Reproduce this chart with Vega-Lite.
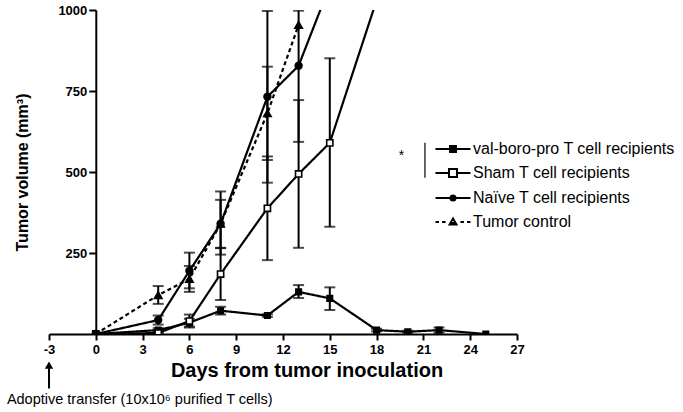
{
  "$schema": "https://vega.github.io/schema/vega-lite/v6.json",
  "width": 468,
  "height": 324,
  "autosize": {"type": "none"},
  "padding": {"left": 49, "top": 10, "right": 166, "bottom": 78},
  "config": {
    "view": {"stroke": null},
    "font": "Liberation Sans",
    "axis": {"grid": false, "domainColor": "black", "domainWidth": 2, "tickColor": "black", "tickWidth": 2, "labelColor": "black", "titleColor": "black", "labelFont": "Liberation Sans", "titleFont": "Liberation Sans", "labelFontWeight": "bold", "labelFontSize": 13, "labelOverlap": false, "labelFlush": false},
    "legend": {"labelFont": "Liberation Sans", "labelFontSize": 16, "labelColor": "black", "symbolStrokeColor": "black", "symbolStrokeWidth": 2, "labelLimit": 0}
  },
  "datasets": {
    "d": [
      {"g": "val-boro-pro T cell recipients", "day": 0, "v": 0, "lo": null, "hi": null},
      {"g": "val-boro-pro T cell recipients", "day": 4, "v": 12, "lo": 6, "hi": 18},
      {"g": "val-boro-pro T cell recipients", "day": 6, "v": 35, "lo": 23, "hi": 47},
      {"g": "val-boro-pro T cell recipients", "day": 8, "v": 72, "lo": 60, "hi": 84},
      {"g": "val-boro-pro T cell recipients", "day": 11, "v": 57, "lo": 53, "hi": 61},
      {"g": "val-boro-pro T cell recipients", "day": 13, "v": 130, "lo": 111, "hi": 151},
      {"g": "val-boro-pro T cell recipients", "day": 15, "v": 110, "lo": 74, "hi": 144},
      {"g": "val-boro-pro T cell recipients", "day": 18, "v": 12, "lo": 8, "hi": 16},
      {"g": "val-boro-pro T cell recipients", "day": 20, "v": 7, "lo": 4, "hi": 10},
      {"g": "val-boro-pro T cell recipients", "day": 22, "v": 12, "lo": 4, "hi": 20},
      {"g": "val-boro-pro T cell recipients", "day": 25, "v": 0, "lo": null, "hi": null},
      {"g": "Sham T cell recipients", "day": 0, "v": 0, "lo": null, "hi": null},
      {"g": "Sham T cell recipients", "day": 4, "v": 3, "lo": 0, "hi": 8},
      {"g": "Sham T cell recipients", "day": 6, "v": 40, "lo": 20, "hi": 60},
      {"g": "Sham T cell recipients", "day": 8, "v": 185, "lo": 105, "hi": 265},
      {"g": "Sham T cell recipients", "day": 11, "v": 388, "lo": 228, "hi": 548},
      {"g": "Sham T cell recipients", "day": 13, "v": 494, "lo": 266, "hi": 722},
      {"g": "Sham T cell recipients", "day": 15, "v": 590, "lo": 331, "hi": 851},
      {"g": "Sham T cell recipients", "day": 18, "v": 1030, "lo": null, "hi": null},
      {"g": "Naïve T cell recipients", "day": 0, "v": 0, "lo": null, "hi": null},
      {"g": "Naïve T cell recipients", "day": 4, "v": 43, "lo": 29, "hi": 57},
      {"g": "Naïve T cell recipients", "day": 6, "v": 195, "lo": 141, "hi": 251},
      {"g": "Naïve T cell recipients", "day": 8, "v": 340, "lo": 245, "hi": 440},
      {"g": "Naïve T cell recipients", "day": 11, "v": 732, "lo": 467, "hi": 997},
      {"g": "Naïve T cell recipients", "day": 13, "v": 828, "lo": 593, "hi": 998},
      {"g": "Naïve T cell recipients", "day": 15, "v": 1075, "lo": null, "hi": null},
      {"g": "Tumor control", "day": 0, "v": 0, "lo": null, "hi": null},
      {"g": "Tumor control", "day": 4, "v": 120, "lo": 93, "hi": 148},
      {"g": "Tumor control", "day": 6, "v": 170, "lo": 130, "hi": 210},
      {"g": "Tumor control", "day": 8, "v": 340, "lo": 266, "hi": 414},
      {"g": "Tumor control", "day": 11, "v": 681, "lo": 537, "hi": 825},
      {"g": "Tumor control", "day": 13, "v": 954, "lo": null, "hi": null}
    ]
  },
  "resolve": {"scale": {"shape": "independent", "fill": "independent"}},
  "layer": [
    {
      "data": {"name": "d"},
      "transform": [{"filter": "datum.lo != null"}],
      "mark": {"type": "rule", "color": "black", "strokeWidth": 2, "clip": true},
      "encoding": {
        "x": {"field": "day", "type": "quantitative", "title": "Days from tumor inoculation", "scale": {"domain": [-3, 27], "nice": false, "zero": false},
          "axis": {"values": [-3, 0, 3, 6, 9, 12, 15, 18, 21, 24, 27], "labelExpr": "'' + datum.value", "titleFontSize": 20, "titleFontWeight": "bold", "titleX": 257.5, "titlePadding": 4, "tickSize": 6, "labelPadding": 3}},
        "y": {"field": "lo", "type": "quantitative", "title": "Tumor volume (mm³)", "scale": {"domain": [0, 1000], "nice": false, "zero": true},
          "axis": {"values": [250, 500, 750, 1000], "labelExpr": "'' + datum.value", "offset": -46.8, "titleFontSize": 16, "titleFontWeight": "bold", "titlePadding": 27, "tickSize": 7, "labelPadding": 2}},
        "y2": {"field": "hi"}
      }
    },
    {
      "data": {"name": "d"},
      "transform": [{"filter": "datum.lo != null"}],
      "mark": {"type": "tick", "color": "black", "orient": "horizontal", "size": 11, "thickness": 2, "clip": true},
      "encoding": {
        "x": {"field": "day", "type": "quantitative", "title": "Days from tumor inoculation"},
        "y": {"field": "lo", "type": "quantitative", "title": "Tumor volume (mm³)"}
      }
    },
    {
      "data": {"name": "d"},
      "transform": [{"filter": "datum.lo != null"}],
      "mark": {"type": "tick", "color": "black", "orient": "horizontal", "size": 11, "thickness": 2, "clip": true},
      "encoding": {
        "x": {"field": "day", "type": "quantitative", "title": "Days from tumor inoculation"},
        "y": {"field": "hi", "type": "quantitative", "title": "Tumor volume (mm³)"}
      }
    },
    {
      "data": {"name": "d"},
      "mark": {"type": "line", "color": "black", "strokeWidth": 2.2, "clip": true},
      "encoding": {
        "x": {"field": "day", "type": "quantitative", "title": "Days from tumor inoculation"},
        "y": {"field": "v", "type": "quantitative", "title": "Tumor volume (mm³)"},
        "detail": {"field": "g"},
        "strokeDash": {"field": "g", "type": "nominal", "legend": null,
          "scale": {"domain": ["val-boro-pro T cell recipients", "Sham T cell recipients", "Naïve T cell recipients", "Tumor control"], "range": [[1, 0], [1, 0], [1, 0], [4, 3]]}}
      }
    },
    {
      "data": {"name": "d"},
      "mark": {"type": "point", "filled": true, "stroke": "black", "strokeWidth": 1.6, "opacity": 1, "clip": true},
      "encoding": {
        "x": {"field": "day", "type": "quantitative", "title": "Days from tumor inoculation"},
        "y": {"field": "v", "type": "quantitative", "title": "Tumor volume (mm³)"},
        "shape": {"field": "g", "type": "nominal", "legend": null,
          "scale": {"domain": ["val-boro-pro T cell recipients", "Sham T cell recipients", "Naïve T cell recipients", "Tumor control"], "range": ["square", "square", "circle", "triangle-up"]}},
        "fill": {"field": "g", "type": "nominal", "legend": null,
          "scale": {"domain": ["val-boro-pro T cell recipients", "Sham T cell recipients", "Naïve T cell recipients", "Tumor control"], "range": ["black", "white", "black", "black"]}},
        "size": {"field": "g", "type": "nominal", "legend": null,
          "scale": {"domain": ["val-boro-pro T cell recipients", "Sham T cell recipients", "Naïve T cell recipients", "Tumor control"], "range": [30, 55, 30, 36]}}
      }
    },
    {
      "data": {"name": "d"},
      "transform": [{"filter": "datum.day > 1000"}],
      "mark": {"type": "point", "filled": false, "color": "black", "strokeWidth": 2, "opacity": 1},
      "encoding": {
        "x": {"field": "day", "type": "quantitative", "title": "Days from tumor inoculation"},
        "y": {"field": "v", "type": "quantitative", "title": "Tumor volume (mm³)"},
        "shape": {"field": "g", "type": "nominal",
          "scale": {"domain": ["val-boro-pro T cell recipients", "Sham T cell recipients", "Naïve T cell recipients", "Tumor control"],
            "range": [
              "M-2,0H2M-0.34,-0.23H0.34M-0.34,0.23H0.34M-0.34,-0.34H0.34V0.34H-0.34Z",
              "M-2,0H-0.46M0.46,0H2M-0.46,-0.46H0.46V0.46H-0.46Z",
              "M-2,0H2M-0.29,0A0.29,0.29,0,1,1,0.29,0A0.29,0.29,0,1,1,-0.29,0ZM-0.11,0A0.11,0.11,0,1,1,0.11,0A0.11,0.11,0,1,1,-0.11,0Z",
              "M-2,0H-1.6M-1.25,0H-0.85M0.85,0H1.25M1.6,0H2M-0.4,0.3L0,-0.4L0.4,0.3ZM-0.2,0.1H0.2"
            ]},
          "legend": {"orient": "none", "legendX": 394, "legendY": 129, "title": null, "symbolSize": 306, "labelOffset": 10, "rowPadding": 6, "symbolStrokeWidth": 2, "symbolStrokeColor": "black", "symbolFillColor": "transparent", "symbolOpacity": 1}}
      }
    },
    {
      "data": {"values": [{"day": 19.6, "v": 548, "t": "*"}]},
      "mark": {"type": "text", "fontSize": 14, "color": "black", "align": "center", "baseline": "middle", "font": "Liberation Sans"},
      "encoding": {
        "x": {"field": "day", "type": "quantitative", "title": "Days from tumor inoculation"},
        "y": {"field": "v", "type": "quantitative", "title": "Tumor volume (mm³)"},
        "text": {"field": "t"}
      }
    },
    {
      "data": {"values": [{"day": 21.1, "v": 590, "v2": 482}]},
      "mark": {"type": "rule", "color": "black", "strokeWidth": 1.2},
      "encoding": {
        "x": {"field": "day", "type": "quantitative", "title": "Days from tumor inoculation"},
        "y": {"field": "v", "type": "quantitative", "title": "Tumor volume (mm³)"},
        "y2": {"field": "v2"}
      }
    },
    {
      "data": {"values": [{"day": -3, "v": -100, "v2": -168}]},
      "mark": {"type": "rule", "color": "black", "strokeWidth": 2, "clip": false},
      "encoding": {
        "x": {"field": "day", "type": "quantitative", "title": "Days from tumor inoculation"},
        "y": {"field": "v", "type": "quantitative", "title": "Tumor volume (mm³)"},
        "y2": {"field": "v2"}
      }
    },
    {
      "data": {"values": [{"day": -3, "v": -96}]},
      "mark": {"type": "point", "shape": "triangle-up", "filled": true, "color": "black", "size": 70, "opacity": 1, "clip": false},
      "encoding": {
        "x": {"field": "day", "type": "quantitative", "title": "Days from tumor inoculation"},
        "y": {"field": "v", "type": "quantitative", "title": "Tumor volume (mm³)"}
      }
    },
    {
      "data": {"values": [{"day": -5.7, "v": -204, "t": "Adoptive transfer (10x10⁶ purified T cells)"}]},
      "mark": {"type": "text", "fontSize": 14.5, "color": "black", "align": "left", "baseline": "middle", "font": "Liberation Sans", "clip": false},
      "encoding": {
        "x": {"field": "day", "type": "quantitative", "title": "Days from tumor inoculation"},
        "y": {"field": "v", "type": "quantitative", "title": "Tumor volume (mm³)"},
        "text": {"field": "t"}
      }
    }
  ]
}
